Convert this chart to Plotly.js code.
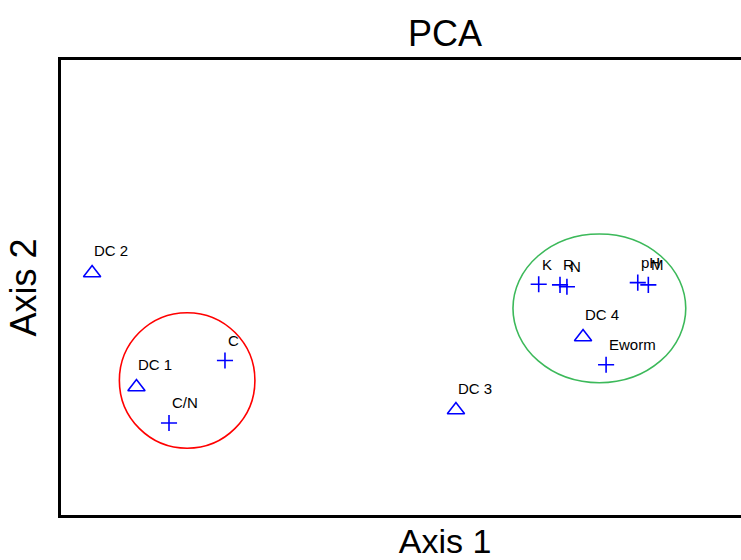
<!DOCTYPE html>
<html><head><meta charset="utf-8">
<script src="https://cdn.plot.ly/plotly-3.0.1.min.js"></script>
<style>html,body{margin:0;padding:0;overflow:hidden;background:#fff}#chart{width:852px;height:560px}</style>
</head><body><div id="chart"></div>
<script>
// Sites (triangles)
const siteNames = ["DC 1", "DC 2", "DC 3", "DC 4"];
const siteX = [-1.607, -1.838, 0.057, 0.719];
const siteY = [-0.656, 0.096, -0.808, -0.326];
// Variables (crosses)
const varNames = ["C", "C/N", "K", "R", "N", "pH", "M", "Eworm"];
const varX = [-1.146, -1.4375, 0.488, 0.599, 0.635, 1.004, 1.059, 0.839];
const varY = [-0.481, -0.893, 0.021, 0.017, 0.005, 0.032, 0.017, -0.509];
// Group ellipses (bounding boxes)
const groupX0 = [-1.696, 0.354];
const groupX1 = [-0.990, 1.254];
const groupY0 = [-1.060, -0.628];
const groupY1 = [-0.166, 0.353];

const blue = "#0000ff";
const groupColors = ["#ff0000", "#3cb95a"];
const labelFont = {family: "Liberation Sans, Arial, sans-serif", size: 15, color: "#000"};

const traces = [
  {type: "scatter", mode: "markers", x: siteX, y: siteY, text: siteNames, hoverinfo: "text",
   marker: {symbol: "triangle-up-open", size: 15, color: blue, line: {color: blue, width: 1.6}}},
  {type: "scatter", mode: "markers", x: varX, y: varY, text: varNames, hoverinfo: "text",
   marker: {symbol: "cross-thin-open", size: 11.5, color: blue, line: {color: blue, width: 1.6}}}
];

const annotations = [];
siteNames.forEach((n, i) => annotations.push({x: siteX[i], y: siteY[i], text: n, showarrow: false,
  xanchor: "left", yanchor: "middle", xshift: 0, yshift: 22, font: labelFont}));
varNames.forEach((n, i) => annotations.push({x: varX[i], y: varY[i], text: n, showarrow: false,
  xanchor: "left", yanchor: "middle", xshift: 1, yshift: 20, font: labelFont}));

const shapes = groupX0.map((v, i) => ({type: "circle", xref: "x", yref: "y",
  x0: groupX0[i], x1: groupX1[i], y0: groupY0[i], y1: groupY1[i],
  line: {color: groupColors[i], width: 1.6}, layer: "below"}));

const axisCommon = {showgrid: false, zeroline: false, showticklabels: false, ticks: "",
  showline: true, mirror: true, linecolor: "#000", linewidth: 3, fixedrange: true};

const layout = {
  width: 852, height: 560,
  margin: {l: 61, r: 23, t: 60, b: 45},
  paper_bgcolor: "#fff", plot_bgcolor: "#fff",
  showlegend: false,
  title: {text: "PCA", x: 0.5, xref: "paper", y: 1 - 33 / 560, yref: "container", yanchor: "middle",
    font: {family: "Liberation Sans, Arial, sans-serif", size: 36, color: "#000"}},
  xaxis: Object.assign({}, axisCommon, {range: [-2, 2],
    title: {text: "Axis 1", standoff: 14, font: {family: "Liberation Sans, Arial, sans-serif", size: 34, color: "#000"}}}),
  yaxis: Object.assign({}, axisCommon, {range: [-1.5, 1.5],
    title: {text: "Axis 2", standoff: 11, font: {family: "Liberation Sans, Arial, sans-serif", size: 36, color: "#000"}}}),
  annotations: annotations,
  shapes: shapes
};

Plotly.newPlot("chart", traces, layout, {displayModeBar: false, staticPlot: true});
</script></body></html>
